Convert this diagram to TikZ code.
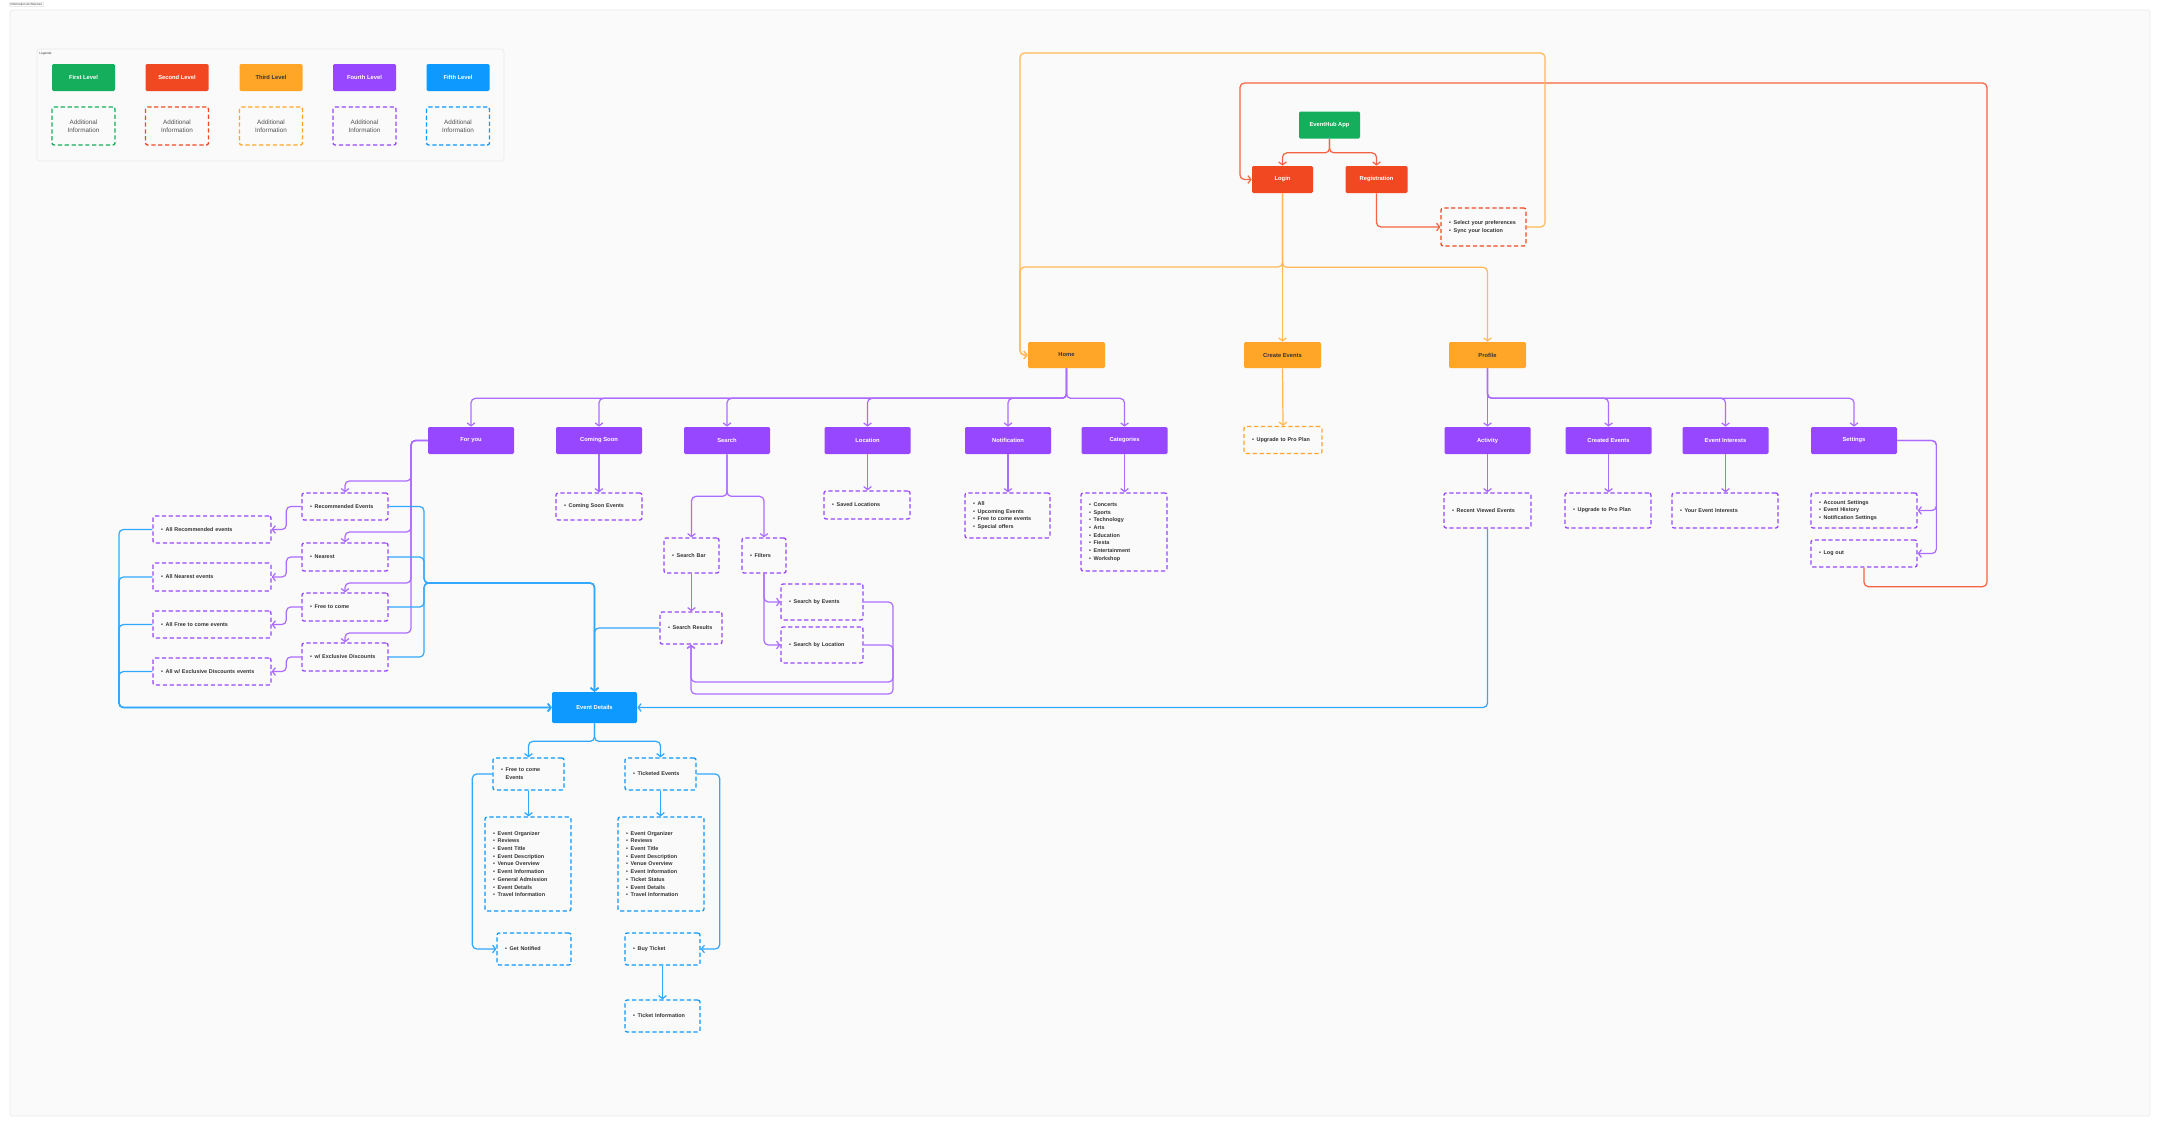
\documentclass[tikz,border=0pt]{standalone}
\usepackage{fontspec}
\setmainfont{Liberation Sans}
\usetikzlibrary{arrows.meta}

\definecolor{figgreen}{HTML}{14AE5C}
\definecolor{figred}{HTML}{F24822}
\definecolor{figorange}{HTML}{FFA629}
\definecolor{figpurple}{HTML}{9747FF}
\definecolor{figblue}{HTML}{0D99FF}
\definecolor{figtext}{HTML}{333333}
\definecolor{figbg}{HTML}{FAFAFA}
\definecolor{figframe}{HTML}{EBEBEB}

\newcommand{\itm}{\hspace*{0.06cm}\textbullet\enspace}

\tikzset{
	sz/.style 2 args={minimum width=#1*0.02cm, minimum height=#2*0.02cm},
	lvlbox/.style={rounded corners=0.8pt, text=white, inner sep=0pt, font=\fontsize{3.3}{4.3}\selectfont\bfseries},
	infobox/.style={draw, line width=0.75pt, dash pattern=on 2.4pt off 1.5pt, rounded corners=1.2pt, fill=none, text=figtext, inner sep=0pt, align=left, font=\fontsize{3.1}{4.4}\selectfont\bfseries},
	info/.style 2 args={infobox, sz={#1}{#2}, text width=(#1-10)*0.02cm},
	lvl1/.style={lvlbox, fill=figgreen, sz={61}{27}},
	lvl2/.style={lvlbox, fill=figred, sz={61}{27}},
	lvl3/.style={lvlbox, fill=figorange, text=figtext, sz={77}{26}},
	lvl4/.style={lvlbox, fill=figpurple, sz={86}{27}},
	lvl5/.style={lvlbox, fill=figblue, sz={85}{31}},
	rinfo/.style 2 args={info={#1}{#2}, draw=figred},
	oinfo/.style 2 args={info={#1}{#2}, draw=figorange},
	pinfo/.style 2 args={info={#1}{#2}, draw=figpurple},
	binfo/.style 2 args={info={#1}{#2}, draw=figblue},
	legadd/.style={infobox, sz={63}{38}, align=center, text=figtext!85, font=\fontsize{3.6}{4.4}\selectfont},
	link/.style={line width=0.7pt, rounded corners=2.5pt, -{Straight Barb[length=1.7pt,width=4.4pt]}},
	rlink/.style={link, draw=figred!85},
	olink/.style={link, draw=figorange!80},
	plink/.style={link, draw=figpurple!80},
	blink/.style={link, draw=figblue!85},
}

\begin{document}
\hyphenpenalty=10000 \exhyphenpenalty=10000
\begin{tikzpicture}[x=0.02cm, y=-0.02cm]
	\useasboundingbox (0,0) rectangle (2160,1126);
	\fill[white] (0,0) rectangle (2160,1126);
	\draw[figframe, fill=figbg, rounded corners=1pt] (10,10) rectangle (2150,1116);
	\node[draw=figframe, fill=white, inner sep=0.6pt, text=figtext, font=\fontsize{1.7}{2}\selectfont] (title) at (26.5,4.5) {Information Architecture};
	
	%legends
	\draw[figframe, fill=figbg, rounded corners=1.5pt] (37,49) rectangle (504,161);
	\node[anchor=north west, inner sep=0pt, text=figtext, font=\fontsize{1.8}{2}\selectfont] (legtitle) at (39,51.5) {Legends};
	\node[lvl1, sz={63}{27}] (leg1) at (83.5,77.5) {First Level};
	\node[lvl2, sz={63}{27}] (leg2) at (177,77.5) {Second Level};
	\node[lvl3, sz={63}{27}] (leg3) at (271,77.5) {Third Level};
	\node[lvl4, sz={63}{27}] (leg4) at (364.5,77.5) {Fourth Level};
	\node[lvl5, sz={63}{27}] (leg5) at (458,77.5) {Fifth Level};
	\node[legadd, draw=figgreen] (add1) at (83.5,126) {Additional\\Information};
	\node[legadd, draw=figred] (add2) at (177,126) {Additional\\Information};
	\node[legadd, draw=figorange] (add3) at (271,126) {Additional\\Information};
	\node[legadd, draw=figpurple] (add4) at (364.5,126) {Additional\\Information};
	\node[legadd, draw=figblue] (add5) at (458,126) {Additional\\Information};
	
	%first and second level
	\node[lvl1] (app) at (1329.5,125) {EventHub App};
	\node[lvl2] (login) at (1282.5,179.5) {Login};
	\node[lvl2, sz={62}{27}] (reg) at (1376.5,179.5) {Registration};
	\node[rinfo={85}{38}] (prefs) at (1483.5,227) {\itm Select your preferences\\\itm Sync your location};
	
	%third level
	\node[lvl3] (home) at (1066.5,355) {Home};
	\node[lvl3] (create) at (1282.5,355) {Create Events};
	\node[lvl3] (profile) at (1487.5,355) {Profile};
	\node[oinfo={78}{27}] (upgrade) at (1283,440) {\itm Upgrade to Pro Plan};
	
	%fourth level
	\node[lvl4] (foryou) at (471,440.5) {For you};
	\node[lvl4] (soon) at (599,440.5) {Coming Soon};
	\node[lvl4] (search) at (727,440.5) {Search};
	\node[lvl4] (location) at (867.5,440.5) {Location};
	\node[lvl4] (notif) at (1008,440.5) {Notification};
	\node[lvl4] (categ) at (1124.5,440.5) {Categories};
	\node[lvl4] (activity) at (1487.5,440.5) {Activity};
	\node[lvl4] (created) at (1608.5,440.5) {Created Events};
	\node[lvl4] (interests) at (1725.5,440.5) {Event Interests};
	\node[lvl4] (settings) at (1854,440.5) {Settings};
	
	\node[pinfo={86}{27}] (soonev) at (599,506.5) {\itm Coming Soon Events};
	\node[pinfo={86}{28}] (saved) at (867,505) {\itm Saved Locations};
	\node[pinfo={85}{45}] (notiflist) at (1007.5,515.5) {\itm All\\\itm Upcoming Events\\\itm Free to come events\\\itm Special offers};
	\node[pinfo={86}{78}] (categlist) at (1124,532) {\itm Concerts\\\itm Sports\\\itm Technology\\\itm Arts\\\itm Education\\\itm Fiesta\\\itm Entertainment\\\itm Workshop};
	\node[pinfo={87}{35}] (recent) at (1487.5,510.5) {\itm Recent Viewed Events};
	\node[pinfo={86}{35}] (createdup) at (1608,510.5) {\itm Upgrade to Pro Plan};
	\node[pinfo={106}{35}] (yourint) at (1725,510.5) {\itm Your Event Interests};
	\node[pinfo={106}{35}] (acct) at (1864,510.5) {\itm Account Settings\\\itm Event History\\\itm Notification Settings};
	\node[pinfo={106}{27}] (logout) at (1864,553.5) {\itm Log out};
	
	\node[pinfo={55}{35}] (searchbar) at (691.5,555.5) {\itm Search Bar};
	\node[pinfo={44}{35}] (filters) at (764,555.5) {\itm Filters};
	\node[pinfo={62}{32}] (results) at (691,628) {\itm Search Results};
	\node[pinfo={82}{36}] (byevents) at (822,602) {\itm Search by Events};
	\node[pinfo={82}{36}] (byloc) at (822,645) {\itm Search by Location};
	
	\node[pinfo={86}{27}] (rec) at (345,506.5) {\itm Recommended Events};
	\node[pinfo={86}{28}] (near) at (345,557) {\itm Nearest};
	\node[pinfo={86}{28}] (free) at (345,607) {\itm Free to come};
	\node[pinfo={86}{28}] (excl) at (345,657) {\itm w/ Exclusive Discounts};
	\node[pinfo={118}{27}] (allrec) at (212,529.5) {\itm All Recommended events};
	\node[pinfo={118}{28}] (allnear) at (212,577) {\itm All Nearest events};
	\node[pinfo={118}{27}] (allfree) at (212,624.5) {\itm All Free to come events};
	\node[pinfo={118}{27}] (allexcl) at (212,671.5) {\itm All w/ Exclusive Discounts events};
	
	%fifth level
	\node[lvl5] (details) at (594.5,707.5) {Event Details};
	\node[binfo={71}{32}] (freeev) at (528.5,774) {\itm Free to come\\\phantom{\itm}Events};
	\node[binfo={71}{32}] (ticketed) at (660.5,774) {\itm Ticketed Events};
	\node[binfo={86}{94}] (freelist) at (528,864) {\itm Event Organizer\\\itm Reviews\\\itm Event Title\\\itm Event Description\\\itm Venue Overview\\\itm Event Information\\\itm General Admission\\\itm Event Details\\\itm Travel Information};
	\node[binfo={86}{94}] (ticklist) at (661,864) {\itm Event Organizer\\\itm Reviews\\\itm Event Title\\\itm Event Description\\\itm Venue Overview\\\itm Event Information\\\itm Ticket Status\\\itm Event Details\\\itm Travel Information};
	\node[binfo={74}{32}] (getnotif) at (534,949) {\itm Get Notified};
	\node[binfo={75}{32}] (buy) at (662.5,949) {\itm Buy Ticket};
	\node[binfo={75}{32}] (tickinfo) at (662.5,1016) {\itm Ticket Information};
	
	%loop points
	\coordinate (otr) at (1545,53);
	\coordinate (otl) at (1020,53);
	\coordinate (rtr) at (1987,83);
	\coordinate (rtl) at (1240,83);
	\coordinate (lp1) at (893,694);
	\coordinate (lp2) at (893,682);
	
	%red connectors
	\draw[rlink] (app.south) -- ++(0,14) -| (login.north);
	\draw[rlink] (app.south) -- ++(0,14) -| (reg.north);
	\draw[rlink] (reg.south) |- (prefs.west);
	\draw[rlink] (logout.south) -- ++(0,19) -| (rtr) -- (rtl) |- (login.west);
	
	%orange connectors
	\draw[olink] (prefs.east) -| (otr) -- (otl) |- (home.west);
	\draw[olink] (login.south) |- (1020,267) |- (home.west);
	\draw[olink] (login.south) -- (create.north);
	\draw[olink] (login.south) -- ++(0,74) -| (profile.north);
	\draw[olink] (create.south) -- (upgrade.north);
	
	%purple connectors
	\foreach \t in {foryou,soon,search,location,notif,categ}
		\draw[plink] (home.south) -- ++(0,30) -| (\t.north);
	\foreach \t in {activity,created,interests,settings}
		\draw[plink] (profile.south) -- ++(0,30) -| (\t.north);
	\draw[plink] (soon.south) -- (soonev.north);
	\draw[plink] (location.south) -- (location.south |- saved.north);
	\draw[plink] (notif.south) -- (notif.south |- notiflist.north);
	\draw[plink] (categ.south) -- (categ.south |- categlist.north);
	\draw[plink] (activity.south) -- (recent.north);
	\draw[plink] (created.south) -- (created.south |- createdup.north);
	\draw[plink] (interests.south) -- (interests.south |- yourint.north);
	\draw[plink] (settings.east) -- ++(39,0) |- (acct.east);
	\draw[plink] (settings.east) -- ++(39,0) |- (logout.east);
	
	\draw[plink] (search.south) -- ++(0,42) -| (searchbar.north);
	\draw[plink] (search.south) -- ++(0,42) -| (filters.north);
	\draw[plink] (searchbar.south) -- (searchbar.south |- results.north);
	\draw[plink] (filters.south) |- (byevents.west);
	\draw[plink] (filters.south) |- (byloc.west);
	\draw[plink] (byevents.east) -| (lp1) -| (results.south);
	\draw[plink] (byloc.east) -| (lp2) -| (results.south);
	
	\foreach \t/\y in {rec/481,near/532,free/583,excl/633}
		\draw[plink] (foryou.west) -| (411,\y) -| (\t.north);
	\draw[plink] (rec.west) -- ++(-15,0) |- (allrec.east);
	\draw[plink] (near.west) -- ++(-15,0) |- (allnear.east);
	\draw[plink] (free.west) -- ++(-15,0) |- (allfree.east);
	\draw[plink] (excl.west) -- ++(-15,0) |- (allexcl.east);
	
	%blue connectors
	\foreach \t in {rec,near,free,excl}
		\draw[blink] (\t.east) -| (424,583) -| (details.north);
	\draw[blink] (results.west) -| (details.north);
	\foreach \t in {allrec,allnear,allfree,allexcl}
		\draw[blink] (\t.west) -| (119,707.5) -- (details.west);
	\draw[blink] (recent.south) |- (details.east);
	\draw[blink] (details.south) -- ++(0,18) -| (freeev.north);
	\draw[blink] (details.south) -- ++(0,18) -| (ticketed.north);
	\draw[blink] (freeev.south) -- (freeev.south |- freelist.north);
	\draw[blink] (ticketed.south) -- (ticketed.south |- ticklist.north);
	\draw[blink] (freeev.west) -- ++(-20,0) |- (getnotif.west);
	\draw[blink] (ticketed.east) -- ++(23,0) |- (buy.east);
	\draw[blink] (buy.south) -- (tickinfo.north);
\end{tikzpicture}
\end{document}
